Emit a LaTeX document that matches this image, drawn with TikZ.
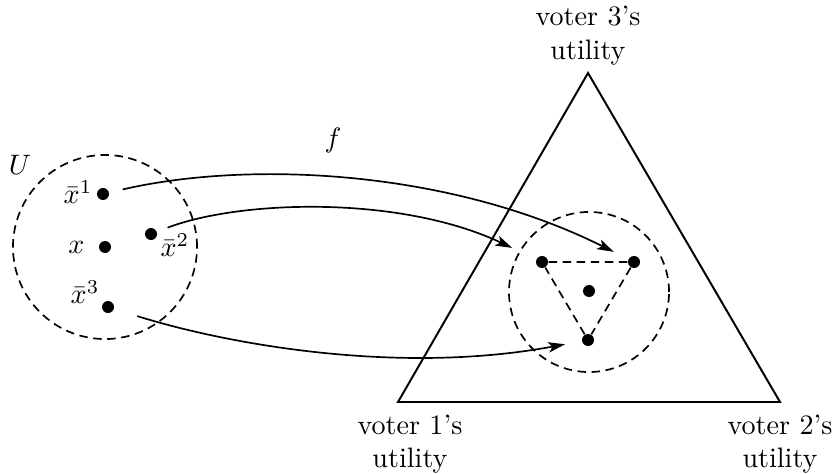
\documentclass[tikz,border=0pt]{standalone}
\usetikzlibrary{arrows.meta}
\tikzset{
  dotnode/.style={circle,fill=black,inner sep=0pt,minimum size=1.5mm},
  ballnode/.style={circle,draw,dash pattern=on 3pt off 2pt,line width=.6pt,inner sep=0pt},
  simplex/.style={line width=.7pt},
  fmap/.style={-{Stealth[length=2.1mm,width=1.3mm,inset=.5mm]},line width=.6pt},
  tridash/.style={dash pattern=on 3pt off 2pt,line width=.6pt},
  voterlbl/.style={align=center,inner sep=0pt},
  ptlbl/.style={inner sep=0pt}
}

\begin{document}
\begin{tikzpicture}[x=0.0125cm,y=-0.0125cm]
  \useasboundingbox (0,0) rectangle (835,473);

  % utility simplex
  \coordinate (v1) at (398,402); \coordinate (v2) at (780,402); \coordinate (v3) at (588,73);
  \draw[simplex] (v1)--(v2)--(v3)--cycle;
  \node[voterlbl] (l3) at (588,36) {voter 3's\\utility};
  \node[voterlbl] (l1) at (410,444) {voter 1's\\utility};
  \node[voterlbl] (l2) at (780,444) {voter 2's\\utility};

  % neighbourhood U of x
  \node[ballnode,minimum size=2.3cm] (U) at (105,247) {};
  \node (Ulbl) at (20,165) {$U$};
  \node[dotnode] (x1) at (103,194) {};
  \node[dotnode] (x0) at (105,247) {};
  \node[dotnode] (x2) at (151,234) {};
  \node[dotnode] (x3) at (108,307) {};
  \node[ptlbl,anchor=east] (x1lbl) at (93,192) {$\bar{x}^1$};
  \node[ptlbl,anchor=east] (x0lbl) at (85,247) {$x$};
  \node[ptlbl,anchor=west] (x2lbl) at (160,245) {$\bar{x}^2$};
  \node[ptlbl,anchor=east] (x3lbl) at (100,292) {$\bar{x}^3$};

  % image ball in the simplex
  \node[ballnode,minimum size=2cm] (img) at (589,292) {};
  \node[dotnode] (y2) at (542,262) {};
  \node[dotnode] (y1) at (634,262) {};
  \node[dotnode] (y0) at (589,291) {};
  \node[dotnode] (y3) at (588,340) {};
  \draw[tridash] (y2)--(y1)--(y3)--(y2);

  % the map f
  \node (flbl) at (333,140) {$f$};
  \draw[fmap,shorten <=.17cm,shorten >=.2cm] (x1) .. controls (250,160) and (450,170) .. (y1);
  \draw[fmap,shorten <=.14cm,shorten >=.33cm] (x2) .. controls (240,200) and (400,195) .. (y2);
  \draw[fmap,shorten <=.3cm,shorten >=.21cm] (x3) .. controls (230,345) and (400,375) .. (y3);
\end{tikzpicture}
\end{document}
